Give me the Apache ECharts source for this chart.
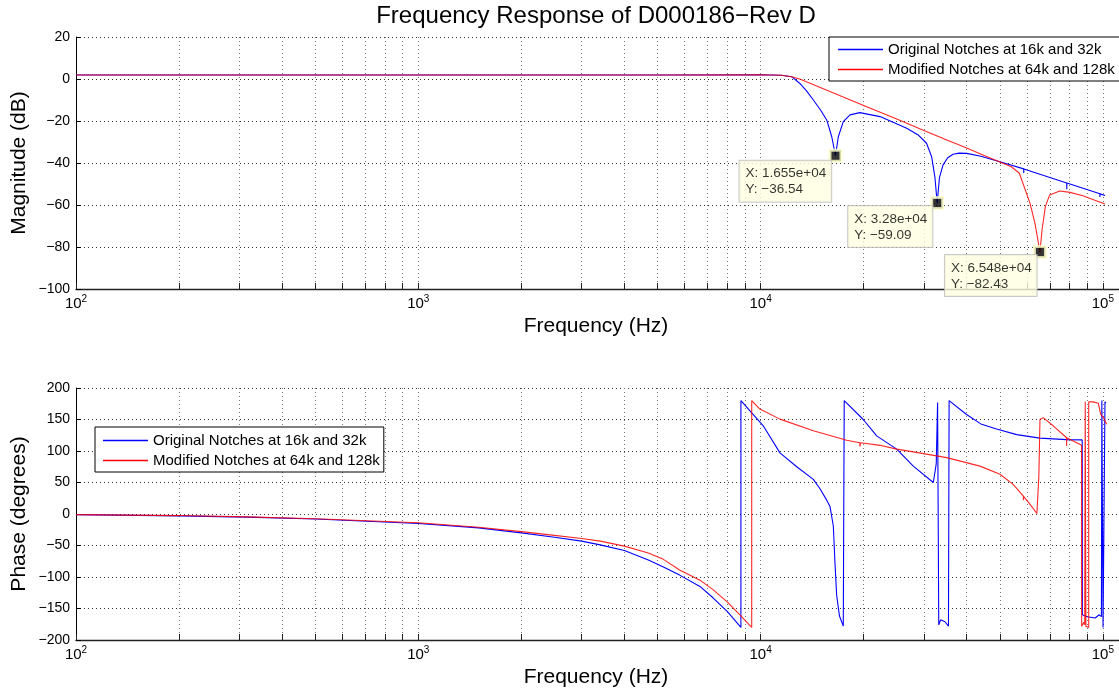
<!DOCTYPE html>
<html><head><meta charset="utf-8">
<script src="https://cdn.jsdelivr.net/npm/echarts@6/dist/echarts.min.js"></script>
<style>html,body{margin:0;padding:0;background:#fff}#c{width:1119px;height:690px}</style>
</head><body><div id="c"></div><script>
const FONT = "'Liberation Sans', Arial, Helvetica, sans-serif";
const seriesNames = ['Original Notches at 16k and 32k', 'Modified Notches at 64k and 128k'];
const xLabelValues = [100, 1000, 10000, 100000];
const xTickValues = [100,200,300,400,500,600,700,800,900,1000,2000,3000,4000,5000,6000,7000,8000,9000,
  10000,20000,30000,40000,50000,60000,70000,80000,90000,100000];
const magTicks = [-100, 20, 20];     // min, max, step
const phaseTicks = [-200, 200, 50];  // min, max, step

const magBlue = [[100,1.9],[1000,1.9],[5000,1.9],[10000,2.0],[11500,1.8],[12320,1.1],[13000,-2],[13600,-5.5],[14260,-10],[15000,-15],[15600,-19.5],[16140,-27.5],[16550,-36.54],[16870,-27.5],[17440,-20.3],[18250,-17.1],[19500,-16],[22330,-17.9],[26720,-23.5],[28800,-26.5],[30530,-30.6],[31600,-37],[32320,-47],[32800,-59.09],[33300,-47],[34100,-41],[35200,-37.5],[36500,-35.8],[38000,-35.3],[40000,-35.4],[44000,-36.8],[50000,-39.4],[58700,-42.8],[58700,-44.8],[58800,-42.9],[62500,-44.3],[78400,-49.5],[78400,-52.5],[78500,-49.5],[98000,-54.6],[98000,-56.2],[98100,-54.7],[101400,-55.5]];
const magRed = [[100,1.9],[1000,1.9],[5000,1.9],[10000,2.0],[11500,1.8],[12320,1.1],[13000,0],[13500,-1.1],[15000,-4.2],[17500,-8.7],[20000,-12.6],[25000,-19.1],[30000,-24.5],[35000,-29],[40000,-32.9],[45000,-36.4],[50000,-39.5],[54000,-41.8],[57000,-44.9],[61200,-59],[63300,-68.6],[64800,-78],[65480,-82.43],[66400,-71.9],[67900,-60.8],[69900,-55.2],[74800,-53.3],[80200,-54],[87400,-55.6],[101400,-59.5]];

const phaseBlue = [[100,-1],[200,-3],[316,-5],[500,-8],[1000,-15],[1500,-22],[2000,-30],[2500,-37],[3000,-43],[3400,-49],[4000,-58],[4700,-73],[5200,-84],[5800,-97],[6650,-115],[7260,-133],[8000,-155],[8760,-180],
 [8760,180],[10180,140],[11390,97],[12750,75],[14260,55],[14910,40],[15600,22],[15950,12],[16310,-19],[16500,-80],[16680,-129],[17000,-162],[17440,-178],[17550,-180],
 [17550,180],[19950,150],[21830,124],[24980,103],[27930,76],[31960,50],[32300,48],[32600,80],[32890,177],[33150,-176],[33560,-168],[34560,-171],[35390,-178],[35540,-180],
 [35540,180],[39960,158],[44000,143],[48900,135],[56000,126],[65490,120.5],[78340,118],[87000,117.6],
 [87100,-160],[90000,-163],[95000,-165],[97500,-160],[99000,-163],[99200,-163],[99300,180],[100000,180],[100100,-180],[101300,-178],[101400,178],[102000,176]];
const phaseRed = [[100,-1],[200,-2.5],[316,-4.5],[500,-7.5],[1000,-14],[1500,-21],[2000,-28],[2500,-34],[3000,-39],[3400,-43],[4000,-51],[4700,-62],[5200,-72],[5800,-89],[6650,-105],[7260,-120],[8000,-140],[8700,-160],[9420,-180],
 [9420,180],[9950,166.5],[11390,150.6],[14260,132],[17840,117],[19500,113],[19500,107],[19600,113],[22330,109],[24980,103],[27930,98.6],[34960,89.5],[43740,76],[50050,63],[54680,47],[58570,28.4],[58570,22],[58650,28],[61500,14],[64150,0.8],[65000,60],[65490,150],[66900,153],[71560,140],[78340,121],[78340,108],[78450,121],[86650,109],
 [86700,-178],[88000,-172],[88500,-176],[88800,178],[89200,-178],[90900,-180],[90900,178],[93700,178],[96990,175.7],[98500,158.5],[100300,153],[102600,142.6]];

const tipPoints = [[16550,-36.54],[32800,-59.09],[65480,-82.43]];
const tipXText = ['1.655e+04','3.28e+04','6.548e+04'];
const tipYText = ['\u221236.54','\u221259.09','\u221282.43'];
const tipBoxOffsets = [[-89,12],[-82,10],[-88,10]];

const chart = echarts.init(document.getElementById('c'), null, {renderer:'canvas'});
function xAxisCfg(gi){
  return {
    type:'log', logBase:10, min:100, max:120000, gridIndex:gi,
    axisLine:{onZero:false, lineStyle:{color:'#222', width:1.3}},
    axisTick:{inside:true, length:6, customValues:xTickValues, lineStyle:{color:'#222'}},
    axisLabel:{customValues:xLabelValues, margin:5,
      formatter:function(v){const l=Math.log10(v), e=Math.round(l); if(Math.abs(l-e)>1e-6) return ''; return '{a|10}{b|'+e+'}';},
      rich:{a:{fontSize:15,color:'#000',fontFamily:FONT}, b:{fontSize:10,color:'#000',fontFamily:FONT,padding:[0,0,9,0]}}},
    splitLine:{show:true, lineStyle:{color:'#777', type:[1,3], width:1}},
    minorTick:{show:false}
  };
}
function yAxisCfg(gi, t){
  return {
    type:'value', gridIndex:gi, min:t[0], max:t[1], interval:t[2],
    axisLine:{show:true, onZero:false, lineStyle:{color:'#000', width:1}},
    axisTick:{show:true, inside:true, length:5, lineStyle:{color:'#000'}},
    axisLabel:{fontSize:14, color:'#000', fontFamily:FONT, margin:6, formatter:v=>String(v).replace('-','\u2212')},
    splitLine:{show:true, lineStyle:{color:'#333', type:[1,3], width:1}}
  };
}
function lineSeries(name, data, xi, color, op){
  return {name:name, type:'line', xAxisIndex:xi, yAxisIndex:xi, data:data, symbol:'none', showSymbol:false,
    lineStyle:{color:color, width:1.1, opacity:op}, itemStyle:{color:color}, animation:false};
}
const legendBase = {orient:'vertical', itemWidth:45, itemHeight:14, itemGap:5, borderColor:'#000', borderWidth:1,
  icon:'path://M0,0L45,0L45,1.3L0,1.3Z', symbolKeepAspect:true,
  backgroundColor:'#fff', textStyle:{fontSize:15, color:'#000', fontFamily:FONT}, data:seriesNames, selectedMode:false};
const gridBase = {left:76, width:1054, height:252, containLabel:false, outerBoundsMode:'none'};

chart.setOption({
  animation:false,
  backgroundColor:'#fff',
  grid:[Object.assign({top:37}, gridBase), Object.assign({top:388}, gridBase)],
  xAxis:[xAxisCfg(0), xAxisCfg(1)],
  yAxis:[yAxisCfg(0, magTicks), yAxisCfg(1, phaseTicks)],
  legend:[Object.assign({left:829, top:37, padding:[5,12,4,9]}, legendBase),
          Object.assign({left:95, top:427, padding:[6,4,4,8]}, legendBase)],
  graphic:[
    {type:'text', x:596, y:16, style:{text:'Frequency Response of D000186\u2212Rev D', font:'24px '+FONT, fill:'#000', align:'center', verticalAlign:'middle'}},
    {type:'text', x:596, y:326, style:{text:'Frequency (Hz)', font:'21px '+FONT, fill:'#000', align:'center', verticalAlign:'middle'}},
    {type:'text', x:596, y:677, style:{text:'Frequency (Hz)', font:'21px '+FONT, fill:'#000', align:'center', verticalAlign:'middle'}},
    {type:'text', x:19, y:163, rotation:Math.PI/2, style:{text:'Magnitude (dB)', font:'21px '+FONT, fill:'#000', align:'center', verticalAlign:'middle'}},
    {type:'text', x:19, y:514, rotation:Math.PI/2, style:{text:'Phase (degrees)', font:'21px '+FONT, fill:'#000', align:'center', verticalAlign:'middle'}}
  ],
  series:[
    lineSeries(seriesNames[0], magBlue, 0, '#0000ff', 1),
    lineSeries(seriesNames[1], magRed, 0, '#ff0000', 0.85),
    lineSeries(seriesNames[0], phaseBlue, 1, '#0000ff', 1),
    lineSeries(seriesNames[1], phaseRed, 1, '#ff0000', 0.85),
    {type:'scatter', xAxisIndex:0, yAxisIndex:0, symbol:'rect', symbolSize:11, z:10,
     data:tipPoints.map((p,i)=>({value:p, label:{position:tipBoxOffsets[i]}})),
     itemStyle:{color:'#000', borderColor:'#ffffcc', borderWidth:3},
     label:{show:true, align:'left', verticalAlign:'top',
       formatter:p=>'X: '+tipXText[p.dataIndex]+'\nY: '+tipYText[p.dataIndex],
       fontSize:13.5, lineHeight:16, color:'#000', fontFamily:FONT,
       backgroundColor:'#ffffe1', borderColor:'#bbb', borderWidth:1, padding:[5,5,4,6]}}
  ]
});
</script></body></html>
